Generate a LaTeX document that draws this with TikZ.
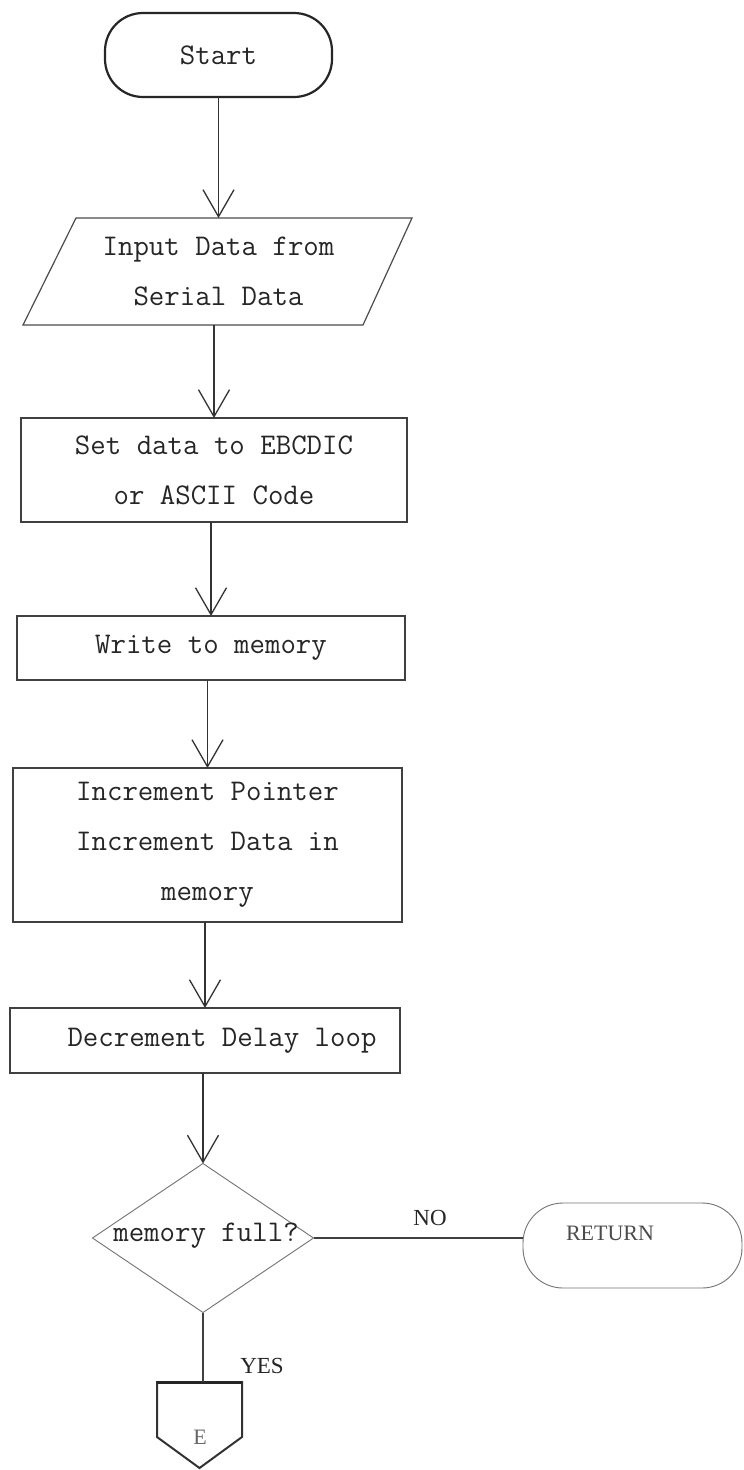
\documentclass[tikz,border=0pt]{standalone}
\usepackage{fontspec}
\setmainfont{Liberation Serif}
\usetikzlibrary{arrows.meta,shapes.geometric,calc}

\begin{document}
\begin{tikzpicture}[x=1pt,y=-1pt,
  every node/.style={inner sep=0pt, outer sep=0pt},
  tw/.style={font=\fontsize{30}{50}\selectfont\ttfamily\addfontfeatures{FakeBold=1.2},
    text=black!85},
  procbox/.style={tw, draw=black!75, line width=1.3pt, align=center},
  flow/.style={draw=black!80, line width=1.3pt,
    -{Straight Barb[length=27pt,width=31pt]}},
  plain/.style={draw=black!75, line width=1.2pt},
  lbl/.style={font=\fontsize{23}{23}\selectfont, text=black!85},
]
\useasboundingbox (0,0) rectangle (744,1470);
\fill[white] (0,0) rectangle (744,1470);

% terminal
\node[tw, draw=black!85, line width=2.2pt, rounded corners=38pt,
      minimum width=227pt, minimum height=84pt] (start) at (218.5,55) {Start};

% input (parallelogram drawn around an invisible node)
\node[tw, align=center, minimum width=338pt, minimum height=107pt]
  (input) at (218.5,271.5) {Input Data from\\Serial Data};
\draw[draw=black!70, line width=1.2pt]
  ($(input.north west)+(26.5,0)$) -- ($(input.north east)+(24.5,0)$) --
  ($(input.south east)+(-24.5,0)$) -- ($(input.south west)+(-26.5,0)$) -- cycle;

% processing steps
\node[procbox, minimum width=386pt, minimum height=104pt] (conv) at (214,470)
  {Set data to EBCDIC\\or ASCII Code};
\node[procbox, minimum width=388pt, minimum height=64pt] (write) at (211,648)
  {Write to memory};
\node[procbox, minimum width=389pt, minimum height=154pt] (incr) at (207.5,845)
  {Increment Pointer\\Increment Data in\\memory};
\node[procbox, minimum width=390pt, minimum height=65pt] (decr) at (205,1040.5)
  {\hspace*{34pt}Decrement Delay loop};

% decision
\node[diamond, draw=black!55, line width=0.9pt,
      minimum width=221pt, minimum height=149pt] (full) at (203,1238) {};
\node[tw] (fulltxt) at (206,1236) {memory full?};

% return terminal
\node[draw=black!55, line width=0.9pt, rounded corners=40pt,
      minimum width=219pt, minimum height=85pt] (ret) at (632.5,1245.5) {};
\node[font=\fontsize{22}{22}\selectfont, text=black!70] (rettxt) at (610,1233) {RETURN};

% off-page connector
\node[minimum width=85pt, minimum height=86pt] (exit) at (199.5,1425) {};
\draw[draw=black!80, line width=2pt, line join=miter]
  (exit.north west) -- (exit.north east) -- ($(exit.north east)+(0,55)$) --
  (exit.south) -- ($(exit.north west)+(0,55)$) -- cycle;
\draw[draw=black!85, line width=3pt] (exit.north west) -- (exit.north east);
\node[font=\fontsize{22}{22}\selectfont, text=black!60] (etxt) at (200,1437) {E};

% connectors
\draw[flow] (start) -- (input);
\draw[flow] (input.south -| conv.north) -- (conv.north);
\draw[flow] (conv.south -| write.north) -- (write.north);
\draw[flow] (write.south -| incr.north) -- (incr.north);
\draw[flow] (incr.south -| decr.north) -- (decr.north);
\draw[flow] (decr.south -| full.north) -- (full.north);
\draw[plain] (full.east) -- (full.east -| ret.west);
\draw[plain] (full.south) -- (full.south |- exit.north);

% branch labels
\node[lbl] (no) at (430,1218) {NO};
\node[lbl] (yes) at (262,1366) {YES};
\end{tikzpicture}
\end{document}
